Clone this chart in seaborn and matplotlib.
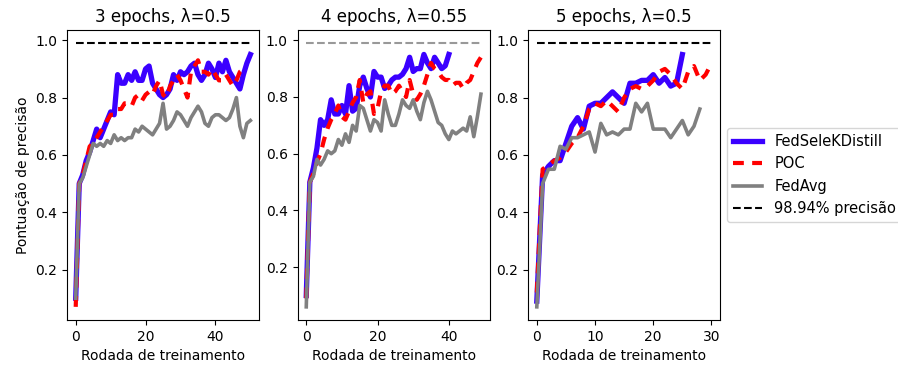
import numpy as np
import matplotlib
matplotlib.use("Agg")
import matplotlib.pyplot as plt
import seaborn as sns

# ---- data ----
titles = ["3 epochs, λ=0.5", "4 epochs, λ=0.55", "5 epochs, λ=0.5"]
ref_acc = 0.9894
ref_label = "98.94% precisão"

# panel 1: 3 epochs
fsk_1 = [0.10, 0.50, 0.53, 0.58, 0.61, 0.65, 0.69, 0.66, 0.69, 0.72, 0.75, 0.74, 0.88,
         0.85, 0.85, 0.88, 0.86, 0.89, 0.86, 0.86, 0.90, 0.91, 0.85, 0.83, 0.81, 0.80,
         0.81, 0.83, 0.88, 0.86, 0.89, 0.88, 0.89, 0.91, 0.92, 0.88, 0.86, 0.88, 0.92,
         0.90, 0.87, 0.92, 0.89, 0.93, 0.89, 0.87, 0.85, 0.83, 0.88, 0.92, 0.95]
poc_1 = [0.07, 0.50, 0.53, 0.58, 0.63, 0.64, 0.66, 0.68, 0.70, 0.72, 0.74, 0.74, 0.76,
         0.76, 0.78, 0.78, 0.77, 0.80, 0.81, 0.79, 0.81, 0.82, 0.81, 0.84, 0.86, 0.81,
         0.80, 0.84, 0.86, 0.88, 0.86, 0.83, 0.80, 0.89, 0.91, 0.93, 0.89, 0.89, 0.88,
         0.90, 0.88, 0.86, 0.86, 0.88, 0.86, 0.84, 0.86, 0.89, 0.90, 0.91]
avg_1 = [0.10, 0.50, 0.52, 0.56, 0.60, 0.64, 0.63, 0.64, 0.63, 0.65, 0.64, 0.67, 0.65,
         0.66, 0.65, 0.66, 0.66, 0.69, 0.68, 0.70, 0.69, 0.68, 0.67, 0.69, 0.71, 0.78,
         0.69, 0.70, 0.72, 0.75, 0.74, 0.72, 0.70, 0.73, 0.75, 0.77, 0.75, 0.71, 0.70,
         0.73, 0.74, 0.74, 0.73, 0.72, 0.73, 0.76, 0.80, 0.70, 0.66, 0.71, 0.72]

# panel 2: 4 epochs
fsk_2 = [0.10, 0.50, 0.55, 0.62, 0.72, 0.70, 0.72, 0.79, 0.74, 0.74, 0.77, 0.74, 0.84,
         0.75, 0.76, 0.84, 0.87, 0.83, 0.80, 0.89, 0.87, 0.87, 0.83, 0.84, 0.86, 0.87,
         0.87, 0.88, 0.90, 0.94, 0.89, 0.90, 0.90, 0.95, 0.92, 0.90, 0.94, 0.92, 0.90,
         0.91, 0.95]
poc_2 = [0.09, 0.50, 0.53, 0.57, 0.60, 0.65, 0.69, 0.72, 0.74, 0.77, 0.73, 0.72, 0.75,
         0.78, 0.80, 0.86, 0.78, 0.81, 0.82, 0.74, 0.76, 0.82, 0.84, 0.84, 0.81, 0.82,
         0.84, 0.82, 0.80, 0.86, 0.81, 0.79, 0.81, 0.84, 0.88, 0.92, 0.90, 0.89, 0.87,
         0.86, 0.86, 0.84, 0.85, 0.85, 0.83, 0.85, 0.86, 0.89, 0.92, 0.94]
avg_2 = [0.06, 0.50, 0.52, 0.58, 0.56, 0.58, 0.61, 0.60, 0.61, 0.65, 0.63, 0.67, 0.64,
         0.70, 0.68, 0.77, 0.76, 0.72, 0.68, 0.72, 0.71, 0.68, 0.79, 0.74, 0.70, 0.70,
         0.74, 0.79, 0.77, 0.76, 0.79, 0.75, 0.72, 0.78, 0.82, 0.79, 0.75, 0.71, 0.70,
         0.67, 0.65, 0.68, 0.67, 0.68, 0.69, 0.68, 0.73, 0.66, 0.73, 0.81]

# panel 3: 5 epochs
fsk_3 = [0.09, 0.53, 0.56, 0.58, 0.58, 0.64, 0.70, 0.73, 0.69, 0.77, 0.78, 0.78, 0.80,
         0.82, 0.80, 0.78, 0.85, 0.85, 0.86, 0.86, 0.88, 0.85, 0.87, 0.84, 0.85, 0.95]
poc_3 = [0.12, 0.55, 0.565, 0.58, 0.59, 0.61, 0.64, 0.66, 0.70, 0.76, 0.78, 0.77, 0.79,
         0.77, 0.75, 0.80, 0.83, 0.84, 0.83, 0.84, 0.86, 0.89, 0.90, 0.88, 0.85, 0.83,
         0.89, 0.91, 0.86, 0.88, 0.92]
avg_3 = [0.07, 0.50, 0.55, 0.55, 0.63, 0.62, 0.66, 0.66, 0.67, 0.68, 0.61, 0.71, 0.67,
         0.68, 0.67, 0.69, 0.69, 0.78, 0.75, 0.78, 0.69, 0.69, 0.69, 0.66, 0.69, 0.72,
         0.67, 0.70, 0.76]

panels = [(fsk_1, poc_1, avg_1), (fsk_2, poc_2, avg_2), (fsk_3, poc_3, avg_3)]
ref_colors = ["black", "#999999", "black"]

# ---- plot ----
fig, axes = plt.subplots(1, 3, figsize=(8.98, 3.67), dpi=100)
fig.subplots_adjust(left=0.0746, right=0.802, top=0.918, bottom=0.128, wspace=0.2)

for ax, (fsk, poc, avg), title, rc in zip(axes, panels, titles, ref_colors):
    longest = max(len(fsk), len(poc), len(avg))
    rounds = np.arange(longest)
    sns.lineplot(x=np.arange(len(fsk)), y=fsk, ax=ax, color="#3a00ff", lw=3.8,
                 label="FedSeleKDistill", legend=False)
    sns.lineplot(x=np.arange(len(poc)), y=poc, ax=ax, color="red", lw=3,
                 linestyle=(0, (2.6, 2)), label="POC", legend=False)
    sns.lineplot(x=np.arange(len(avg)), y=avg, ax=ax, color="gray", lw=2.6,
                 label="FedAvg", legend=False)
    sns.lineplot(x=rounds, y=[ref_acc] * longest, ax=ax, color=rc, lw=1.5,
                 linestyle="--", label=ref_label, legend=False)
    ax.set_title(title, fontsize=12)
    ax.set_xlabel("Rodada de treinamento")

axes[0].set_ylabel("Pontuação de precisão")

h, l = axes[2].get_legend_handles_labels()
h[3].set_color("black")
axes[2].legend(h, l, loc="center left", bbox_to_anchor=(1.0, 0.5), fontsize=10.5)

plt.savefig("out.png", dpi=100)
